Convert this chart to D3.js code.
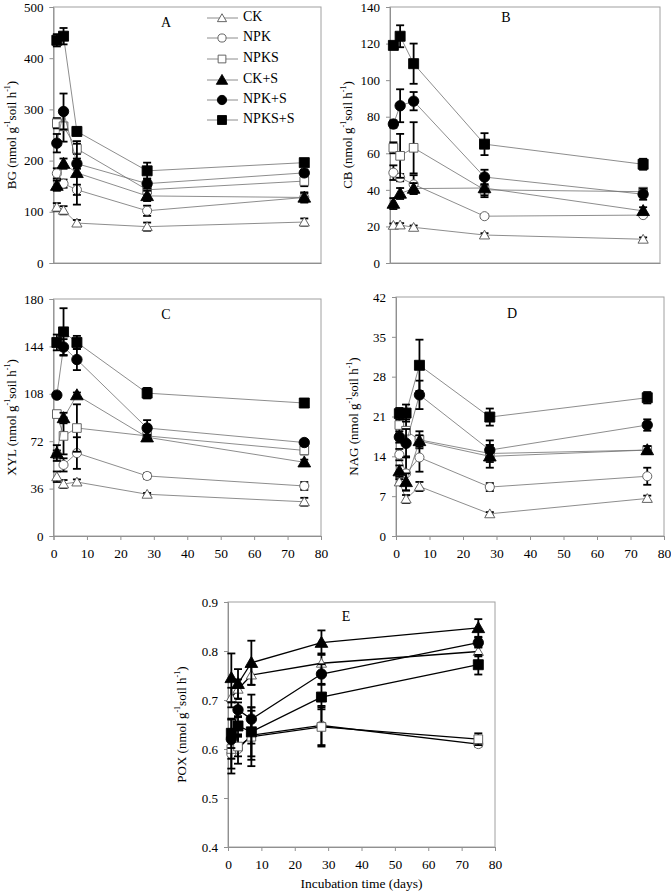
<!DOCTYPE html>
<html><head><meta charset="utf-8">
<script src="https://cdn.jsdelivr.net/npm/d3@7"></script>
<style>body{margin:0;background:#fff}svg{display:block}text{font-family:"Liberation Serif","Times New Roman",serif}</style>
</head><body>
<script>
const days = [1, 3, 7, 28, 75];
const seriesNames = ["CK", "NPK", "NPKS", "CK+S", "NPK+S", "NPKS+S"];
const xTicks = [0, 10, 20, 30, 40, 50, 60, 70, 80];

// BG
const bgCK = [109, 103, 78, 71, 80], bgCKErr = [8, 8, 6, 8, 7];
const bgNPK = [175, 155, 143, 102, 128], bgNPKErr = [10, 8, 10, 10, 8];
const bgNPKS = [273, 267, 223, 143, 160], bgNPKSErr = [10, 30, 10, 10, 10];
const bgCKS = [151, 194, 176, 131, 128], bgCKSErr = [10, 10, 62, 10, 10];
const bgNPK_S = [234, 296, 194, 155, 176], bgNPK_SErr = [18, 35, 10, 10, 6];
const bgNPKS_S = [435, 443, 257, 180, 196], bgNPKS_SErr = [12, 16, 8, 16, 6];
const bgTicks = [0, 100, 200, 300, 400, 500];

// CB
const cbCK = [20.6, 20.8, 19.5, 15.3, 13], cbCKErr = [1, 1, 1, 1, 1];
const cbNPK = [49.4, 46.7, 43, 25.6, 26.2], cbNPKErr = [4, 2, 5, 1, 1];
const cbNPKS = [63, 58.6, 63, 40, 39], cbNPKSErr = [3, 12, 14, 3, 2];
const cbCKS = [32.5, 38, 40.7, 41, 28.5], cbCKSErr = [3, 3, 3, 5, 2];
const cbNPK_S = [76, 86, 88.5, 47, 37.6], cbNPK_SErr = [2, 9, 5, 4, 3];
const cbNPKS_S = [119, 124, 109, 65, 54], cbNPKS_SErr = [2, 6, 11, 6, 3];
const cbTicks = [0, 20, 40, 60, 80, 100, 120, 140];

// XYL
const xyCK = [45, 39.5, 41, 31.7, 26], xyCKErr = [4, 3, 2, 1, 3];
const xyNPK = [62, 54, 63, 45.6, 38], xyNPKErr = [3, 5, 12, 2, 3];
const xyNPKS = [92.6, 76, 82, 76, 65], xyNPKSErr = [2, 14, 18, 3, 3];
const xyCKS = [63, 89.6, 107, 75, 56], xyCKSErr = [6, 4, 2, 2, 2];
const xyNPK_S = [107, 143.5, 134, 82, 71], xyNPK_SErr = [2, 6, 8, 6, 2];
const xyNPKS_S = [147, 155, 147, 108.5, 101], xyNPKS_SErr = [6, 18, 5, 4, 3];
const xyTicks = [0, 36, 72, 108, 144, 180];

// NAG
const naCK = [9.5, 6.5, 8.7, 3.9, 6.6], naCKErr = [0.5, 0.7, 0.8, 0.3, 0.5];
const naNPK = [14.3, 11, 13.8, 8.6, 10.5], naNPKErr = [1, 3, 2.5, 0.7, 1.5];
const naNPKS = [19.5, 18.5, 16.9, 14.5, 15.1], naNPKSErr = [1.5, 2, 1.5, 1.5, 0.7];
const naCKS = [11.4, 9.5, 16.7, 14, 15.1], naCKSErr = [1, 1.5, 1, 2, 0.7];
const naNPK_S = [17.4, 16.3, 24.8, 15.1, 19.5], naNPK_SErr = [1, 2.5, 2.5, 1.7, 1];
const naNPKS_S = [21.5, 21.6, 30, 20.9, 24.3], naNPKS_SErr = [1, 1.5, 4.5, 1.5, 1];
const naTicks = [0, 7, 14, 21, 28, 35, 42];

// POX
const poCK = [0.705, 0.722, 0.751, 0.775, 0.799], poCKErr = [0.02, 0.02, 0.02, 0.02, 0.01];
const poNPK = [0.59, 0.6, 0.628, 0.648, 0.61], poNPKErr = [0.04, 0.03, 0.05, 0.04, 0.005];
const poNPKS = [0.6, 0.605, 0.625, 0.645, 0.62], poNPKSErr = [0.04, 0.02, 0.06, 0.04, 0.012];
const poCKS = [0.745, 0.733, 0.776, 0.817, 0.847], poCKSErr = [0.05, 0.03, 0.045, 0.025, 0.018];
const poNPK_S = [0.62, 0.68, 0.661, 0.753, 0.817], poNPK_SErr = [0.04, 0.015, 0.05, 0.02, 0.01];
const poNPKS_S = [0.632, 0.647, 0.635, 0.706, 0.772], poNPKS_SErr = [0.03, 0.02, 0.05, 0.025, 0.02];
const poTicks = [0.4, 0.5, 0.6, 0.7, 0.8, 0.9];

const W = 671, H = 892;
const svg = d3.select("body").append("svg").attr("width", W).attr("height", H);

const symbols = [
  {type: d3.symbolTriangle, size: 45, fill: "#fff"},
  {type: d3.symbolCircle, size: 65, fill: "#fff"},
  {type: d3.symbolSquare, size: 75, fill: "#fff"},
  {type: d3.symbolTriangle, size: 70, fill: "#000"},
  {type: d3.symbolCircle, size: 85, fill: "#000"},
  {type: d3.symbolSquare, size: 100, fill: "#000"}
];

const panels = [
  {label: "A", name: "BG", left: 53.5, right: 321, top: 7, bottom: 263, domain: [0, 500], ticks: bgTicks, fmt: d => d, xlabels: false,
   vals: [bgCK, bgNPK, bgNPKS, bgCKS, bgNPK_S, bgNPKS_S], errs: [bgCKErr, bgNPKErr, bgNPKSErr, bgCKSErr, bgNPK_SErr, bgNPKS_SErr],
   ylx: 13, lab: [166, 27], lineColor: "#707070", lw: 0.8},
  {label: "B", name: "CB", left: 390, right: 660, top: 7, bottom: 263, domain: [0, 140], ticks: cbTicks, fmt: d => d, xlabels: false,
   vals: [cbCK, cbNPK, cbNPKS, cbCKS, cbNPK_S, cbNPKS_S], errs: [cbCKErr, cbNPKErr, cbNPKSErr, cbCKSErr, cbNPK_SErr, cbNPKS_SErr],
   ylx: 349, lab: [506, 22], lineColor: "#707070", lw: 0.8},
  {label: "C", name: "XYL", left: 53.5, right: 321, top: 299, bottom: 536, domain: [0, 180], ticks: xyTicks, fmt: d => d, xlabels: true,
   vals: [xyCK, xyNPK, xyNPKS, xyCKS, xyNPK_S, xyNPKS_S], errs: [xyCKErr, xyNPKErr, xyNPKSErr, xyCKSErr, xyNPK_SErr, xyNPKS_SErr],
   ylx: 13, lab: [166, 319], lineColor: "#707070", lw: 0.8},
  {label: "D", name: "NAG", left: 396, right: 664, top: 297, bottom: 536, domain: [0, 42], ticks: naTicks, fmt: d => d, xlabels: true,
   vals: [naCK, naNPK, naNPKS, naCKS, naNPK_S, naNPKS_S], errs: [naCKErr, naNPKErr, naNPKSErr, naCKSErr, naNPK_SErr, naNPKS_SErr],
   ylx: 355, lab: [512, 318], lineColor: "#707070", lw: 0.8},
  {label: "E", name: "POX", left: 228, right: 495, top: 602, bottom: 847, domain: [0.4, 0.9], ticks: poTicks, fmt: d3.format(".1f"), xlabels: true,
   vals: [poCK, poNPK, poNPKS, poCKS, poNPK_S, poNPKS_S], errs: [poCKErr, poNPKErr, poNPKSErr, poCKSErr, poNPK_SErr, poNPKS_SErr],
   ylx: 183, lab: [346, 621], lineColor: "#000", lw: 1.3}
];

panels.forEach(p => {
  const x = d3.scaleLinear().domain([0, 80]).range([p.left, p.right]);
  const y = d3.scaleLinear().domain(p.domain).range([p.bottom, p.top]);
  const g = svg.append("g");

  g.append("rect").attr("x", p.left).attr("y", p.top).attr("width", p.right - p.left).attr("height", p.bottom - p.top)
    .attr("fill", "none").attr("stroke", "#a0a0a0").attr("stroke-width", 1);

  const ya = g.append("g").attr("transform", `translate(${p.left},0)`)
    .call(d3.axisLeft(y).tickValues(p.ticks).tickFormat(p.fmt).tickSize(4).tickPadding(6));
  ya.select(".domain").attr("stroke", "#909090");
  ya.selectAll(".tick line").attr("stroke", "#909090");
  ya.selectAll("text").attr("font-size", 13).attr("fill", "#000").style("font-family", '"Liberation Serif", serif');

  const xa = g.append("g").attr("transform", `translate(0,${p.bottom})`)
    .call(d3.axisBottom(x).tickValues(xTicks).tickSize(p.xlabels ? 4 : 0).tickPadding(8).tickFormat(p.xlabels ? (d => d) : () => ""));
  xa.select(".domain").attr("stroke", "#909090");
  xa.selectAll(".tick line").attr("stroke", "#909090");
  xa.selectAll("text").attr("font-size", 13.5).attr("fill", "#000").style("font-family", '"Liberation Serif", serif');

  const cy = (p.top + p.bottom) / 2;
  const yl = g.append("text").attr("transform", `translate(${p.ylx},${cy}) rotate(-90)`)
    .attr("text-anchor", "middle").attr("dominant-baseline", "middle").attr("font-size", 13).attr("fill", "#000");
  yl.append("tspan").text(p.name + " (nmol g");
  yl.append("tspan").attr("font-size", 8).attr("dy", -5).text("-1");
  yl.append("tspan").attr("dy", 5).text("soil h");
  yl.append("tspan").attr("font-size", 8).attr("dy", -5).text("-1");
  yl.append("tspan").attr("dy", 5).text(")");

  g.append("text").attr("x", p.lab[0]).attr("y", p.lab[1]).attr("text-anchor", "middle")
    .attr("font-size", 14).attr("fill", "#000").text(p.label);

  const line = d3.line().x((d, i) => x(days[i])).y(d => y(d));
  p.vals.forEach((vals, si) => {
    const errs = p.errs[si];
    const s = g.append("g");
    s.append("path").attr("d", line(vals)).attr("fill", "none").attr("stroke", p.lineColor).attr("stroke-width", p.lw);
    vals.forEach((v, i) => {
      const cx = x(days[i]);
      const y1 = y(v + errs[i]), y2 = y(v - errs[i]);
      s.append("line").attr("x1", cx).attr("x2", cx).attr("y1", y1).attr("y2", y2).attr("stroke", "#000").attr("stroke-width", 1.8);
      [y1, y2].forEach(yy => s.append("line").attr("x1", cx - 4).attr("x2", cx + 4).attr("y1", yy).attr("y2", yy)
        .attr("stroke", "#000").attr("stroke-width", 1.8));
    });
    const sym = symbols[si];
    s.selectAll("path.m").data(vals).enter().append("path").attr("class", "m")
      .attr("transform", (d, i) => `translate(${x(days[i])},${y(d) + (sym.type === d3.symbolTriangle ? 1 : 0)})`)
      .attr("d", d3.symbol().type(sym.type).size(sym.size))
      .attr("fill", sym.fill).attr("stroke", sym.fill === "#000" ? "#000" : "#555").attr("stroke-width", 0.9);
  });

  if (p.label === "E") {
    g.append("text").attr("x", (p.left + p.right) / 2).attr("y", 888).attr("text-anchor", "middle")
      .attr("font-size", 13.5).attr("fill", "#000").text("Incubation time (days)");
  }
});

const legY = [18, 38, 59, 80, 100, 120];
const leg = svg.append("g");
seriesNames.forEach((n, i) => {
  const yy = legY[i];
  leg.append("line").attr("x1", 207).attr("x2", 238).attr("y1", yy).attr("y2", yy).attr("stroke", "#707070").attr("stroke-width", 0.8);
  const sym = symbols[i];
  leg.append("path").attr("transform", `translate(222,${yy + (sym.type === d3.symbolTriangle ? 1 : 0)})`)
    .attr("d", d3.symbol().type(sym.type).size(sym.size * 0.8))
    .attr("fill", sym.fill).attr("stroke", sym.fill === "#000" ? "#000" : "#555").attr("stroke-width", 0.9);
  leg.append("text").attr("x", 243).attr("y", yy).attr("dominant-baseline", "middle")
    .attr("font-size", 14).attr("fill", "#000").text(n);
});
</script>
</body></html>
